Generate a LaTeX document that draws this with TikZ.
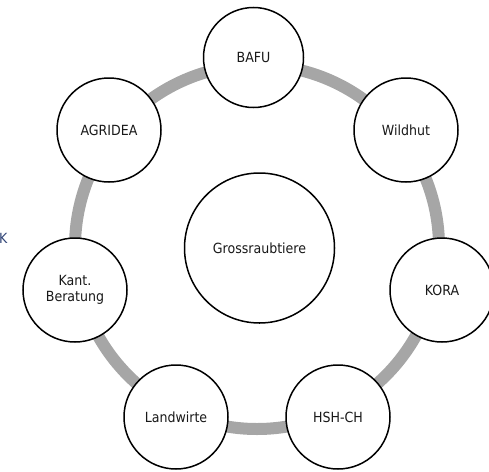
\documentclass[tikz,border=0pt]{standalone}
\usepackage{fontspec}
\setmainfont{DejaVu Sans Condensed}
\definecolor{ringgray}{RGB}{166,166,166}
\definecolor{txt}{RGB}{25,25,25}
\begin{document}
\begin{tikzpicture}[x=1pt,y=-1pt,
  actor/.style={circle,draw=black,line width=1.5pt,fill=white,minimum size=104pt,inner sep=0pt,
    font=\fontsize{14}{16}\selectfont,text=txt,align=center},
  core/.style={actor,minimum size=150pt}]
\useasboundingbox (0,0) rectangle (489,471);
\coordinate (ringc) at (257,247);
\draw[ringgray,line width=12pt] (ringc) circle[radius=182];
\node[core] (gross) at (259.5,248) {Grossraubtiere};
\node[actor,minimum size=100pt] (bafu) at (253.5,57.5) {BAFU};
\node[actor] (wild) at (406,130) {Wildhut};
\node[actor] (kora) at (442,290) {KORA};
\node[actor] (hsh) at (338,417) {HSH-CH};
\node[actor] (land) at (176,417) {Landwirte};
\node[actor] (kant) at (75,290) {Kant.\\Beratung};
\node[actor] (agri) at (109,130) {AGRIDEA};
\node[font=\fontsize{14}{16}\selectfont,text={rgb,255:red,50;green,70;blue,120},inner sep=0pt,anchor=west] (k) at (-1,238) {K};
\end{tikzpicture}
\end{document}
